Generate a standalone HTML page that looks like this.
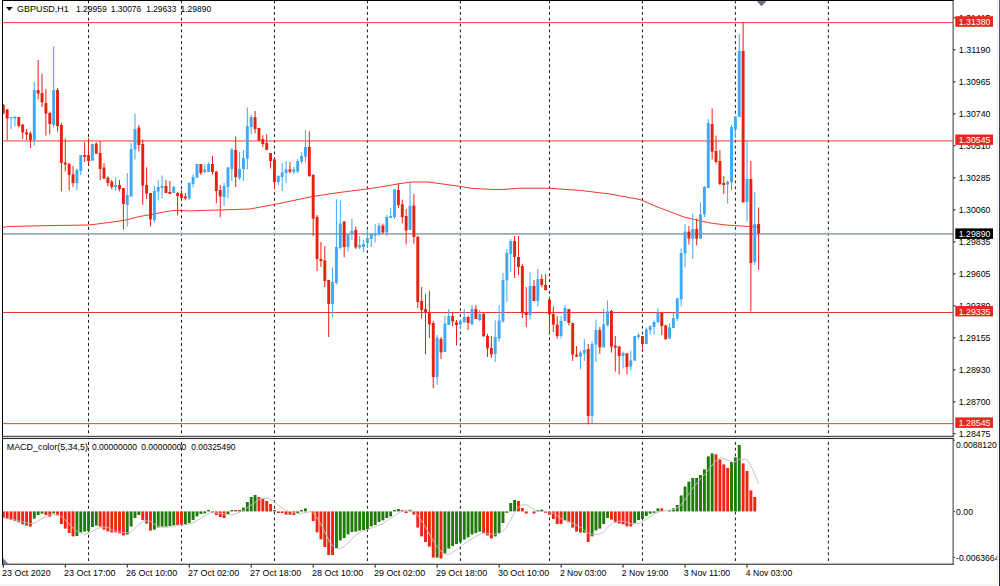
<!DOCTYPE html>
<html><head><meta charset="utf-8"><title>GBPUSD,H1</title>
<style>
html,body{margin:0;padding:0;background:#fff;}
body{width:1000px;height:586px;overflow:hidden;}
svg{display:block;}
text{font-family:"Liberation Sans", Arial, sans-serif;font-size:9.8px;fill:#000;}
.w{fill:#fff;}
</style></head><body>
<svg width="1000" height="586" viewBox="0 0 1000 586">
<defs>
<linearGradient id="re" x1="0" y1="0" x2="0" y2="1">
<stop offset="0" stop-color="#5c6485"/><stop offset="0.11" stop-color="#4a475a"/><stop offset="0.5" stop-color="#2b3040"/><stop offset="1" stop-color="#1a2030"/>
</linearGradient>
<clipPath id="cm"><rect x="3" y="1" width="950" height="435"/></clipPath>
<clipPath id="cs"><rect x="3" y="439" width="950" height="125"/></clipPath>
</defs>
<rect x="0" y="0" width="1000" height="586" fill="#fff"/>

<rect x="997" y="0" width="1" height="585" fill="#ebebe9"/>
<rect x="0" y="584.5" width="998" height="1" fill="#ebebe9"/>
<rect x="999" y="0" width="1" height="586" fill="url(#re)"/>
<g stroke="#1a1a1a" stroke-width="1" stroke-dasharray="2.905 2.905" fill="none">
<path d="M88.52 0.35V563.8"/>
<path d="M181.48 0.35V563.8"/>
<path d="M274.44 0.35V563.8"/>
<path d="M367.41 0.35V563.8"/>
<path d="M460.37 0.35V563.8"/>
<path d="M549.46 0.35V563.8"/>
<path d="M642.43 0.35V563.8"/>
<path d="M735.39 0.35V563.8"/>
<path d="M828.36 0.35V563.8"/>
</g>
<g stroke="#f0392b" stroke-width="1" fill="none">
<path d="M3 22.65H953"/>
<path d="M3 140.95H953"/>
<path d="M3 312.5H953"/>
<path d="M3 423.65H953"/>
</g>
<path d="M3 233.95H953" stroke="#9ea7b4" stroke-width="1.8" fill="none"/>
<polyline points="3.0,227.4 8.0,226.5 48.0,225.6 88.0,225.0 94.0,224.4 110.0,222.4 124.0,220.4 140.0,216.4 152.0,214.4 164.0,212.0 174.0,210.4 181.0,210.4 189.0,211.0 200.0,210.5 220.0,210.0 250.0,209.0 274.0,204.6 312.0,196.6 340.0,192.4 367.0,189.0 380.0,187.0 400.0,183.6 412.0,182.0 428.0,182.0 460.0,186.4 472.0,188.4 492.0,189.4 504.0,189.4 520.0,188.2 548.0,188.2 580.0,190.4 610.0,194.0 640.0,199.5 660.0,208.0 684.0,217.0 710.0,223.0 726.0,225.0 750.0,226.6 758.0,227.0" fill="none" stroke="#f0392b" stroke-width="1" stroke-linejoin="round" clip-path="url(#cm)"/>
<g clip-path="url(#cm)">
<path d="M3.30 104.0V114.0" stroke="#e8200f" stroke-width="1"/>
<rect x="1.85" y="105.0" width="2.9" height="8.6" fill="#e8200f"/>
<path d="M7.17 109.0V140.0" stroke="#e8200f" stroke-width="1"/>
<rect x="5.72" y="109.4" width="2.9" height="9.0" fill="#e8200f"/>
<path d="M11.05 117.0V129.4" stroke="#3fa9f5" stroke-width="1"/>
<rect x="9.60" y="117.0" width="2.9" height="1.4" fill="#3fa9f5"/>
<path d="M14.92 116.6V126.4" stroke="#3fa9f5" stroke-width="1"/>
<rect x="13.47" y="116.6" width="2.9" height="1.8" fill="#3fa9f5"/>
<path d="M18.79 117.0V127.4" stroke="#e8200f" stroke-width="1"/>
<rect x="17.34" y="117.0" width="2.9" height="9.0" fill="#e8200f"/>
<path d="M22.67 124.0V139.0" stroke="#e8200f" stroke-width="1"/>
<rect x="21.22" y="124.6" width="2.9" height="7.8" fill="#e8200f"/>
<path d="M26.54 129.0V140.0" stroke="#e8200f" stroke-width="1"/>
<rect x="25.09" y="132.4" width="2.9" height="2.0" fill="#e8200f"/>
<path d="M30.41 131.6V148.0" stroke="#e8200f" stroke-width="1"/>
<rect x="28.96" y="133.4" width="2.9" height="6.6" fill="#e8200f"/>
<path d="M34.29 82.0V145.6" stroke="#3fa9f5" stroke-width="1"/>
<rect x="32.84" y="90.0" width="2.9" height="50.0" fill="#3fa9f5"/>
<path d="M38.16 60.0V99.4" stroke="#e8200f" stroke-width="1"/>
<rect x="36.71" y="90.0" width="2.9" height="3.6" fill="#e8200f"/>
<path d="M42.03 73.6V107.0" stroke="#e8200f" stroke-width="1"/>
<rect x="40.58" y="93.0" width="2.9" height="9.4" fill="#e8200f"/>
<path d="M45.91 89.0V135.6" stroke="#e8200f" stroke-width="1"/>
<rect x="44.46" y="103.0" width="2.9" height="10.6" fill="#e8200f"/>
<path d="M49.78 111.6V134.4" stroke="#e8200f" stroke-width="1"/>
<rect x="48.33" y="113.0" width="2.9" height="11.0" fill="#e8200f"/>
<path d="M53.66 46.4V127.4" stroke="#3fa9f5" stroke-width="1"/>
<rect x="52.21" y="90.0" width="2.9" height="35.0" fill="#3fa9f5"/>
<path d="M57.53 88.0V131.6" stroke="#e8200f" stroke-width="1"/>
<rect x="56.08" y="90.0" width="2.9" height="36.0" fill="#e8200f"/>
<path d="M61.40 123.0V191.4" stroke="#e8200f" stroke-width="1"/>
<rect x="59.95" y="125.0" width="2.9" height="38.0" fill="#e8200f"/>
<path d="M65.28 138.5V171.5" stroke="#e8200f" stroke-width="1"/>
<rect x="63.83" y="162.5" width="2.9" height="2.0" fill="#e8200f"/>
<path d="M69.15 163.0V190.4" stroke="#e8200f" stroke-width="1"/>
<rect x="67.70" y="164.0" width="2.9" height="11.0" fill="#e8200f"/>
<path d="M73.02 166.0V187.0" stroke="#e8200f" stroke-width="1"/>
<rect x="71.57" y="174.4" width="2.9" height="8.6" fill="#e8200f"/>
<path d="M76.90 168.4V190.4" stroke="#3fa9f5" stroke-width="1"/>
<rect x="75.45" y="170.0" width="2.9" height="13.0" fill="#3fa9f5"/>
<path d="M80.77 155.0V175.0" stroke="#3fa9f5" stroke-width="1"/>
<rect x="79.32" y="155.0" width="2.9" height="16.0" fill="#3fa9f5"/>
<path d="M84.64 142.4V162.0" stroke="#e8200f" stroke-width="1"/>
<rect x="83.19" y="155.0" width="2.9" height="2.0" fill="#e8200f"/>
<path d="M88.52 138.0V164.0" stroke="#e8200f" stroke-width="1"/>
<rect x="87.07" y="155.0" width="2.9" height="6.0" fill="#e8200f"/>
<path d="M92.39 143.6V160.6" stroke="#3fa9f5" stroke-width="1"/>
<rect x="90.94" y="144.0" width="2.9" height="16.6" fill="#3fa9f5"/>
<path d="M96.26 142.4V153.6" stroke="#e8200f" stroke-width="1"/>
<rect x="94.81" y="143.6" width="2.9" height="10.0" fill="#e8200f"/>
<path d="M100.14 141.0V180.0" stroke="#e8200f" stroke-width="1"/>
<rect x="98.69" y="153.0" width="2.9" height="16.0" fill="#e8200f"/>
<path d="M104.01 163.0V178.6" stroke="#e8200f" stroke-width="1"/>
<rect x="102.56" y="167.6" width="2.9" height="11.0" fill="#e8200f"/>
<path d="M107.88 176.4V186.4" stroke="#e8200f" stroke-width="1"/>
<rect x="106.43" y="177.6" width="2.9" height="5.4" fill="#e8200f"/>
<path d="M111.76 180.0V189.4" stroke="#e8200f" stroke-width="1"/>
<rect x="110.31" y="181.6" width="2.9" height="5.4" fill="#e8200f"/>
<path d="M115.63 177.4V190.4" stroke="#3fa9f5" stroke-width="1"/>
<rect x="114.18" y="185.0" width="2.9" height="2.0" fill="#3fa9f5"/>
<path d="M119.50 180.0V191.4" stroke="#e8200f" stroke-width="1"/>
<rect x="118.05" y="185.0" width="2.9" height="4.0" fill="#e8200f"/>
<path d="M123.38 188.0V229.4" stroke="#e8200f" stroke-width="1"/>
<rect x="121.93" y="188.0" width="2.9" height="16.0" fill="#e8200f"/>
<path d="M127.25 173.0V226.4" stroke="#3fa9f5" stroke-width="1"/>
<rect x="125.80" y="195.0" width="2.9" height="10.0" fill="#3fa9f5"/>
<path d="M131.13 143.0V196.6" stroke="#3fa9f5" stroke-width="1"/>
<rect x="129.68" y="149.0" width="2.9" height="47.6" fill="#3fa9f5"/>
<path d="M135.00 113.4V159.4" stroke="#3fa9f5" stroke-width="1"/>
<rect x="133.55" y="129.0" width="2.9" height="20.6" fill="#3fa9f5"/>
<path d="M138.87 125.0V151.4" stroke="#e8200f" stroke-width="1"/>
<rect x="137.42" y="127.6" width="2.9" height="17.4" fill="#e8200f"/>
<path d="M142.75 139.4V205.0" stroke="#e8200f" stroke-width="1"/>
<rect x="141.30" y="144.0" width="2.9" height="41.6" fill="#e8200f"/>
<path d="M146.62 167.4V199.0" stroke="#e8200f" stroke-width="1"/>
<rect x="145.17" y="185.0" width="2.9" height="8.6" fill="#e8200f"/>
<path d="M150.49 193.0V226.4" stroke="#e8200f" stroke-width="1"/>
<rect x="149.04" y="193.0" width="2.9" height="26.4" fill="#e8200f"/>
<path d="M154.37 186.0V222.4" stroke="#3fa9f5" stroke-width="1"/>
<rect x="152.92" y="191.0" width="2.9" height="29.0" fill="#3fa9f5"/>
<path d="M158.24 180.0V200.4" stroke="#3fa9f5" stroke-width="1"/>
<rect x="156.79" y="187.0" width="2.9" height="4.6" fill="#3fa9f5"/>
<path d="M162.11 175.4V198.4" stroke="#3fa9f5" stroke-width="1"/>
<rect x="160.66" y="186.0" width="2.9" height="2.0" fill="#3fa9f5"/>
<path d="M165.99 180.0V193.0" stroke="#e8200f" stroke-width="1"/>
<rect x="164.54" y="186.0" width="2.9" height="7.0" fill="#e8200f"/>
<path d="M169.86 181.0V194.0" stroke="#e8200f" stroke-width="1"/>
<rect x="168.41" y="192.0" width="2.9" height="2.0" fill="#e8200f"/>
<path d="M173.73 186.0V193.0" stroke="#3fa9f5" stroke-width="1"/>
<rect x="172.28" y="187.0" width="2.9" height="6.0" fill="#3fa9f5"/>
<path d="M177.61 192.0V215.4" stroke="#e8200f" stroke-width="1"/>
<rect x="176.16" y="193.0" width="2.9" height="3.0" fill="#e8200f"/>
<path d="M181.48 190.0V199.0" stroke="#e8200f" stroke-width="1"/>
<rect x="180.03" y="193.6" width="2.9" height="4.4" fill="#e8200f"/>
<path d="M185.35 193.0V200.4" stroke="#e8200f" stroke-width="1"/>
<rect x="183.90" y="196.4" width="2.9" height="2.0" fill="#e8200f"/>
<path d="M189.23 182.0V200.0" stroke="#3fa9f5" stroke-width="1"/>
<rect x="187.78" y="183.0" width="2.9" height="15.4" fill="#3fa9f5"/>
<path d="M193.10 174.4V187.4" stroke="#3fa9f5" stroke-width="1"/>
<rect x="191.65" y="177.0" width="2.9" height="7.0" fill="#3fa9f5"/>
<path d="M196.98 164.0V177.6" stroke="#3fa9f5" stroke-width="1"/>
<rect x="195.53" y="164.0" width="2.9" height="13.6" fill="#3fa9f5"/>
<path d="M200.85 164.0V175.0" stroke="#e8200f" stroke-width="1"/>
<rect x="199.40" y="164.0" width="2.9" height="9.0" fill="#e8200f"/>
<path d="M204.72 164.0V173.0" stroke="#3fa9f5" stroke-width="1"/>
<rect x="203.27" y="169.6" width="2.9" height="2.4" fill="#3fa9f5"/>
<path d="M208.60 162.0V172.0" stroke="#3fa9f5" stroke-width="1"/>
<rect x="207.15" y="164.0" width="2.9" height="8.0" fill="#3fa9f5"/>
<path d="M212.47 156.0V174.4" stroke="#e8200f" stroke-width="1"/>
<rect x="211.02" y="164.0" width="2.9" height="8.0" fill="#e8200f"/>
<path d="M216.34 171.0V203.4" stroke="#e8200f" stroke-width="1"/>
<rect x="214.89" y="171.6" width="2.9" height="19.4" fill="#e8200f"/>
<path d="M220.22 185.0V217.4" stroke="#e8200f" stroke-width="1"/>
<rect x="218.77" y="190.0" width="2.9" height="6.4" fill="#e8200f"/>
<path d="M224.09 183.0V206.0" stroke="#3fa9f5" stroke-width="1"/>
<rect x="222.64" y="186.0" width="2.9" height="11.0" fill="#3fa9f5"/>
<path d="M227.96 167.0V198.4" stroke="#3fa9f5" stroke-width="1"/>
<rect x="226.51" y="167.4" width="2.9" height="19.6" fill="#3fa9f5"/>
<path d="M231.84 148.0V181.0" stroke="#3fa9f5" stroke-width="1"/>
<rect x="230.39" y="149.6" width="2.9" height="19.4" fill="#3fa9f5"/>
<path d="M235.71 136.4V187.0" stroke="#e8200f" stroke-width="1"/>
<rect x="234.26" y="150.0" width="2.9" height="27.0" fill="#e8200f"/>
<path d="M239.58 151.6V180.0" stroke="#3fa9f5" stroke-width="1"/>
<rect x="238.13" y="169.0" width="2.9" height="9.0" fill="#3fa9f5"/>
<path d="M243.46 150.0V181.0" stroke="#3fa9f5" stroke-width="1"/>
<rect x="242.01" y="158.0" width="2.9" height="11.0" fill="#3fa9f5"/>
<path d="M247.33 107.4V169.4" stroke="#3fa9f5" stroke-width="1"/>
<rect x="245.88" y="126.0" width="2.9" height="32.6" fill="#3fa9f5"/>
<path d="M251.20 115.0V134.4" stroke="#3fa9f5" stroke-width="1"/>
<rect x="249.75" y="117.0" width="2.9" height="10.0" fill="#3fa9f5"/>
<path d="M255.08 111.0V133.4" stroke="#e8200f" stroke-width="1"/>
<rect x="253.63" y="117.0" width="2.9" height="12.0" fill="#e8200f"/>
<path d="M258.95 128.0V140.6" stroke="#e8200f" stroke-width="1"/>
<rect x="257.50" y="128.0" width="2.9" height="12.6" fill="#e8200f"/>
<path d="M262.82 135.4V147.0" stroke="#e8200f" stroke-width="1"/>
<rect x="261.37" y="139.0" width="2.9" height="5.0" fill="#e8200f"/>
<path d="M266.70 134.4V150.0" stroke="#e8200f" stroke-width="1"/>
<rect x="265.25" y="143.0" width="2.9" height="7.0" fill="#e8200f"/>
<path d="M270.57 153.0V168.4" stroke="#e8200f" stroke-width="1"/>
<rect x="269.12" y="153.0" width="2.9" height="8.0" fill="#e8200f"/>
<path d="M274.44 157.0V189.0" stroke="#e8200f" stroke-width="1"/>
<rect x="273.00" y="159.4" width="2.9" height="22.6" fill="#e8200f"/>
<path d="M278.32 175.0V185.0" stroke="#3fa9f5" stroke-width="1"/>
<rect x="276.87" y="176.0" width="2.9" height="6.0" fill="#3fa9f5"/>
<path d="M282.19 163.0V191.0" stroke="#3fa9f5" stroke-width="1"/>
<rect x="280.74" y="172.4" width="2.9" height="4.6" fill="#3fa9f5"/>
<path d="M286.07 161.0V183.0" stroke="#3fa9f5" stroke-width="1"/>
<rect x="284.62" y="169.4" width="2.9" height="3.6" fill="#3fa9f5"/>
<path d="M289.94 162.0V173.4" stroke="#e8200f" stroke-width="1"/>
<rect x="288.49" y="169.4" width="2.9" height="2.2" fill="#e8200f"/>
<path d="M293.81 167.0V174.0" stroke="#3fa9f5" stroke-width="1"/>
<rect x="292.36" y="169.4" width="2.9" height="2.6" fill="#3fa9f5"/>
<path d="M297.69 159.0V173.0" stroke="#3fa9f5" stroke-width="1"/>
<rect x="296.24" y="161.0" width="2.9" height="10.6" fill="#3fa9f5"/>
<path d="M301.56 152.4V163.4" stroke="#3fa9f5" stroke-width="1"/>
<rect x="300.11" y="156.0" width="2.9" height="5.6" fill="#3fa9f5"/>
<path d="M305.43 130.0V162.4" stroke="#3fa9f5" stroke-width="1"/>
<rect x="303.98" y="147.0" width="2.9" height="9.6" fill="#3fa9f5"/>
<path d="M309.31 131.4V177.0" stroke="#e8200f" stroke-width="1"/>
<rect x="307.86" y="147.0" width="2.9" height="29.0" fill="#e8200f"/>
<path d="M313.18 174.0V236.2" stroke="#e8200f" stroke-width="1"/>
<rect x="311.73" y="175.0" width="2.9" height="43.6" fill="#e8200f"/>
<path d="M317.05 215.0V271.0" stroke="#e8200f" stroke-width="1"/>
<rect x="315.60" y="217.0" width="2.9" height="42.0" fill="#e8200f"/>
<path d="M320.93 242.0V267.0" stroke="#e8200f" stroke-width="1"/>
<rect x="319.48" y="259.0" width="2.9" height="2.0" fill="#e8200f"/>
<path d="M324.80 246.0V287.4" stroke="#e8200f" stroke-width="1"/>
<rect x="323.35" y="260.4" width="2.9" height="20.6" fill="#e8200f"/>
<path d="M328.67 280.0V337.0" stroke="#e8200f" stroke-width="1"/>
<rect x="327.22" y="280.0" width="2.9" height="24.0" fill="#e8200f"/>
<path d="M332.55 267.4V317.4" stroke="#3fa9f5" stroke-width="1"/>
<rect x="331.10" y="282.0" width="2.9" height="22.0" fill="#3fa9f5"/>
<path d="M336.42 199.4V284.4" stroke="#3fa9f5" stroke-width="1"/>
<rect x="334.97" y="247.0" width="2.9" height="36.0" fill="#3fa9f5"/>
<path d="M340.29 200.4V249.4" stroke="#3fa9f5" stroke-width="1"/>
<rect x="338.84" y="223.6" width="2.9" height="24.4" fill="#3fa9f5"/>
<path d="M344.17 221.0V257.4" stroke="#e8200f" stroke-width="1"/>
<rect x="342.72" y="221.6" width="2.9" height="25.4" fill="#e8200f"/>
<path d="M348.04 234.0V251.4" stroke="#3fa9f5" stroke-width="1"/>
<rect x="346.59" y="234.0" width="2.9" height="13.0" fill="#3fa9f5"/>
<path d="M351.92 219.0V240.0" stroke="#3fa9f5" stroke-width="1"/>
<rect x="350.47" y="231.0" width="2.9" height="3.0" fill="#3fa9f5"/>
<path d="M355.79 226.6V249.0" stroke="#e8200f" stroke-width="1"/>
<rect x="354.34" y="230.0" width="2.9" height="17.4" fill="#e8200f"/>
<path d="M359.66 236.0V249.0" stroke="#3fa9f5" stroke-width="1"/>
<rect x="358.21" y="245.0" width="2.9" height="2.4" fill="#3fa9f5"/>
<path d="M363.54 240.0V252.4" stroke="#3fa9f5" stroke-width="1"/>
<rect x="362.09" y="244.0" width="2.9" height="3.0" fill="#3fa9f5"/>
<path d="M367.41 229.0V248.0" stroke="#3fa9f5" stroke-width="1"/>
<rect x="365.96" y="238.0" width="2.9" height="5.0" fill="#3fa9f5"/>
<path d="M371.28 234.0V247.0" stroke="#3fa9f5" stroke-width="1"/>
<rect x="369.83" y="234.0" width="2.9" height="5.0" fill="#3fa9f5"/>
<path d="M375.16 224.0V242.4" stroke="#3fa9f5" stroke-width="1"/>
<rect x="373.71" y="233.6" width="2.9" height="2.0" fill="#3fa9f5"/>
<path d="M379.03 223.0V236.0" stroke="#3fa9f5" stroke-width="1"/>
<rect x="377.58" y="225.6" width="2.9" height="8.4" fill="#3fa9f5"/>
<path d="M382.90 223.6V234.0" stroke="#e8200f" stroke-width="1"/>
<rect x="381.45" y="225.6" width="2.9" height="6.8" fill="#e8200f"/>
<path d="M386.78 215.0V236.0" stroke="#3fa9f5" stroke-width="1"/>
<rect x="385.33" y="217.0" width="2.9" height="15.5" fill="#3fa9f5"/>
<path d="M390.65 208.0V218.0" stroke="#3fa9f5" stroke-width="1"/>
<rect x="389.20" y="216.0" width="2.9" height="2.0" fill="#3fa9f5"/>
<path d="M394.52 189.0V219.0" stroke="#3fa9f5" stroke-width="1"/>
<rect x="393.07" y="189.4" width="2.9" height="27.6" fill="#3fa9f5"/>
<path d="M398.40 183.4V208.0" stroke="#e8200f" stroke-width="1"/>
<rect x="396.95" y="190.0" width="2.9" height="15.0" fill="#e8200f"/>
<path d="M402.27 199.6V223.6" stroke="#e8200f" stroke-width="1"/>
<rect x="400.82" y="204.4" width="2.9" height="12.6" fill="#e8200f"/>
<path d="M406.14 209.0V244.4" stroke="#e8200f" stroke-width="1"/>
<rect x="404.69" y="216.0" width="2.9" height="14.4" fill="#e8200f"/>
<path d="M410.02 183.0V230.0" stroke="#3fa9f5" stroke-width="1"/>
<rect x="408.57" y="205.6" width="2.9" height="24.4" fill="#3fa9f5"/>
<path d="M413.89 194.0V243.6" stroke="#e8200f" stroke-width="1"/>
<rect x="412.44" y="205.6" width="2.9" height="31.4" fill="#e8200f"/>
<path d="M417.76 235.6V308.0" stroke="#e8200f" stroke-width="1"/>
<rect x="416.31" y="237.0" width="2.9" height="65.0" fill="#e8200f"/>
<path d="M421.64 287.0V318.4" stroke="#e8200f" stroke-width="1"/>
<rect x="420.19" y="301.0" width="2.9" height="9.0" fill="#e8200f"/>
<path d="M425.51 294.4V354.4" stroke="#e8200f" stroke-width="1"/>
<rect x="424.06" y="309.0" width="2.9" height="3.0" fill="#e8200f"/>
<path d="M429.38 290.6V338.0" stroke="#e8200f" stroke-width="1"/>
<rect x="427.94" y="312.4" width="2.9" height="12.0" fill="#e8200f"/>
<path d="M433.26 321.0V388.0" stroke="#e8200f" stroke-width="1"/>
<rect x="431.81" y="323.0" width="2.9" height="54.0" fill="#e8200f"/>
<path d="M437.13 335.0V385.0" stroke="#3fa9f5" stroke-width="1"/>
<rect x="435.68" y="337.6" width="2.9" height="39.4" fill="#3fa9f5"/>
<path d="M441.01 337.0V359.0" stroke="#e8200f" stroke-width="1"/>
<rect x="439.56" y="339.0" width="2.9" height="13.4" fill="#e8200f"/>
<path d="M444.88 316.0V352.0" stroke="#3fa9f5" stroke-width="1"/>
<rect x="443.43" y="323.6" width="2.9" height="28.4" fill="#3fa9f5"/>
<path d="M448.75 309.0V325.0" stroke="#3fa9f5" stroke-width="1"/>
<rect x="447.30" y="316.0" width="2.9" height="9.0" fill="#3fa9f5"/>
<path d="M452.63 313.0V326.0" stroke="#e8200f" stroke-width="1"/>
<rect x="451.18" y="316.0" width="2.9" height="5.4" fill="#e8200f"/>
<path d="M456.50 320.0V345.4" stroke="#e8200f" stroke-width="1"/>
<rect x="455.05" y="322.4" width="2.9" height="2.6" fill="#e8200f"/>
<path d="M460.37 319.4V329.0" stroke="#3fa9f5" stroke-width="1"/>
<rect x="458.92" y="321.0" width="2.9" height="3.4" fill="#3fa9f5"/>
<path d="M464.25 309.0V322.4" stroke="#3fa9f5" stroke-width="1"/>
<rect x="462.80" y="317.0" width="2.9" height="5.4" fill="#3fa9f5"/>
<path d="M468.12 315.6V330.0" stroke="#e8200f" stroke-width="1"/>
<rect x="466.67" y="317.0" width="2.9" height="6.0" fill="#e8200f"/>
<path d="M471.99 305.0V325.4" stroke="#3fa9f5" stroke-width="1"/>
<rect x="470.54" y="309.0" width="2.9" height="15.0" fill="#3fa9f5"/>
<path d="M475.87 305.0V319.0" stroke="#e8200f" stroke-width="1"/>
<rect x="474.42" y="309.0" width="2.9" height="10.0" fill="#e8200f"/>
<path d="M479.74 310.0V321.4" stroke="#3fa9f5" stroke-width="1"/>
<rect x="478.29" y="314.0" width="2.9" height="6.0" fill="#3fa9f5"/>
<path d="M483.61 312.4V336.4" stroke="#e8200f" stroke-width="1"/>
<rect x="482.16" y="314.0" width="2.9" height="22.4" fill="#e8200f"/>
<path d="M487.49 334.0V357.0" stroke="#e8200f" stroke-width="1"/>
<rect x="486.04" y="336.0" width="2.9" height="12.4" fill="#e8200f"/>
<path d="M491.36 336.0V358.0" stroke="#e8200f" stroke-width="1"/>
<rect x="489.91" y="348.0" width="2.9" height="6.4" fill="#e8200f"/>
<path d="M495.23 320.4V362.0" stroke="#3fa9f5" stroke-width="1"/>
<rect x="493.78" y="337.0" width="2.9" height="17.0" fill="#3fa9f5"/>
<path d="M499.11 305.0V341.6" stroke="#3fa9f5" stroke-width="1"/>
<rect x="497.66" y="320.4" width="2.9" height="18.2" fill="#3fa9f5"/>
<path d="M502.98 273.0V323.0" stroke="#3fa9f5" stroke-width="1"/>
<rect x="501.53" y="280.0" width="2.9" height="41.4" fill="#3fa9f5"/>
<path d="M506.86 249.0V302.0" stroke="#3fa9f5" stroke-width="1"/>
<rect x="505.41" y="253.0" width="2.9" height="27.4" fill="#3fa9f5"/>
<path d="M510.73 239.0V272.0" stroke="#3fa9f5" stroke-width="1"/>
<rect x="509.28" y="241.0" width="2.9" height="13.0" fill="#3fa9f5"/>
<path d="M514.60 236.0V278.0" stroke="#e8200f" stroke-width="1"/>
<rect x="513.15" y="241.0" width="2.9" height="16.0" fill="#e8200f"/>
<path d="M518.48 236.0V275.0" stroke="#e8200f" stroke-width="1"/>
<rect x="517.03" y="257.0" width="2.9" height="10.0" fill="#e8200f"/>
<path d="M522.35 264.0V318.0" stroke="#e8200f" stroke-width="1"/>
<rect x="520.90" y="266.0" width="2.9" height="47.0" fill="#e8200f"/>
<path d="M526.22 287.0V327.0" stroke="#e8200f" stroke-width="1"/>
<rect x="524.77" y="312.0" width="2.9" height="3.0" fill="#e8200f"/>
<path d="M530.10 272.4V319.4" stroke="#3fa9f5" stroke-width="1"/>
<rect x="528.65" y="286.0" width="2.9" height="29.0" fill="#3fa9f5"/>
<path d="M533.97 280.0V301.0" stroke="#e8200f" stroke-width="1"/>
<rect x="532.52" y="286.0" width="2.9" height="15.0" fill="#e8200f"/>
<path d="M537.84 269.0V306.6" stroke="#3fa9f5" stroke-width="1"/>
<rect x="536.39" y="279.0" width="2.9" height="22.0" fill="#3fa9f5"/>
<path d="M541.72 274.4V287.4" stroke="#e8200f" stroke-width="1"/>
<rect x="540.27" y="279.0" width="2.9" height="6.0" fill="#e8200f"/>
<path d="M545.59 274.4V290.6" stroke="#e8200f" stroke-width="1"/>
<rect x="544.14" y="285.0" width="2.9" height="5.0" fill="#e8200f"/>
<path d="M549.46 297.0V334.6" stroke="#e8200f" stroke-width="1"/>
<rect x="548.01" y="299.4" width="2.9" height="15.0" fill="#e8200f"/>
<path d="M553.34 306.4V332.0" stroke="#e8200f" stroke-width="1"/>
<rect x="551.89" y="314.0" width="2.9" height="10.6" fill="#e8200f"/>
<path d="M557.21 316.0V338.6" stroke="#e8200f" stroke-width="1"/>
<rect x="555.76" y="324.6" width="2.9" height="11.4" fill="#e8200f"/>
<path d="M561.08 316.0V338.6" stroke="#3fa9f5" stroke-width="1"/>
<rect x="559.63" y="321.0" width="2.9" height="15.0" fill="#3fa9f5"/>
<path d="M564.96 305.0V321.0" stroke="#3fa9f5" stroke-width="1"/>
<rect x="563.51" y="308.0" width="2.9" height="13.0" fill="#3fa9f5"/>
<path d="M568.83 309.0V325.4" stroke="#e8200f" stroke-width="1"/>
<rect x="567.38" y="309.0" width="2.9" height="14.0" fill="#e8200f"/>
<path d="M572.70 323.0V361.0" stroke="#e8200f" stroke-width="1"/>
<rect x="571.25" y="323.0" width="2.9" height="31.6" fill="#e8200f"/>
<path d="M576.58 346.0V357.0" stroke="#e8200f" stroke-width="1"/>
<rect x="575.13" y="354.6" width="2.9" height="2.0" fill="#e8200f"/>
<path d="M580.45 351.0V369.4" stroke="#3fa9f5" stroke-width="1"/>
<rect x="579.00" y="352.6" width="2.9" height="4.0" fill="#3fa9f5"/>
<path d="M584.32 339.0V361.0" stroke="#3fa9f5" stroke-width="1"/>
<rect x="582.87" y="350.0" width="2.9" height="3.4" fill="#3fa9f5"/>
<path d="M588.20 344.0V424.4" stroke="#e8200f" stroke-width="1"/>
<rect x="586.75" y="349.0" width="2.9" height="67.0" fill="#e8200f"/>
<path d="M592.07 341.4V423.0" stroke="#3fa9f5" stroke-width="1"/>
<rect x="590.62" y="344.0" width="2.9" height="72.0" fill="#3fa9f5"/>
<path d="M595.95 319.6V362.0" stroke="#3fa9f5" stroke-width="1"/>
<rect x="594.50" y="330.0" width="2.9" height="14.6" fill="#3fa9f5"/>
<path d="M599.82 327.0V354.0" stroke="#e8200f" stroke-width="1"/>
<rect x="598.37" y="330.0" width="2.9" height="17.4" fill="#e8200f"/>
<path d="M603.69 309.0V347.4" stroke="#3fa9f5" stroke-width="1"/>
<rect x="602.24" y="324.4" width="2.9" height="23.0" fill="#3fa9f5"/>
<path d="M607.57 300.4V326.4" stroke="#3fa9f5" stroke-width="1"/>
<rect x="606.12" y="311.4" width="2.9" height="14.0" fill="#3fa9f5"/>
<path d="M611.44 310.0V352.6" stroke="#e8200f" stroke-width="1"/>
<rect x="609.99" y="311.0" width="2.9" height="35.6" fill="#e8200f"/>
<path d="M615.31 336.0V371.6" stroke="#e8200f" stroke-width="1"/>
<rect x="613.86" y="345.6" width="2.9" height="2.0" fill="#e8200f"/>
<path d="M619.19 346.0V374.4" stroke="#e8200f" stroke-width="1"/>
<rect x="617.74" y="346.6" width="2.9" height="9.4" fill="#e8200f"/>
<path d="M623.06 351.6V368.4" stroke="#3fa9f5" stroke-width="1"/>
<rect x="621.61" y="353.0" width="2.9" height="3.0" fill="#3fa9f5"/>
<path d="M626.93 353.0V374.4" stroke="#e8200f" stroke-width="1"/>
<rect x="625.48" y="353.4" width="2.9" height="13.6" fill="#e8200f"/>
<path d="M630.81 350.6V370.4" stroke="#3fa9f5" stroke-width="1"/>
<rect x="629.36" y="360.4" width="2.9" height="6.2" fill="#3fa9f5"/>
<path d="M634.68 336.0V360.6" stroke="#3fa9f5" stroke-width="1"/>
<rect x="633.23" y="336.0" width="2.9" height="24.6" fill="#3fa9f5"/>
<path d="M638.55 333.0V339.4" stroke="#3fa9f5" stroke-width="1"/>
<rect x="637.10" y="335.0" width="2.9" height="2.0" fill="#3fa9f5"/>
<path d="M642.43 336.0V348.6" stroke="#e8200f" stroke-width="1"/>
<rect x="640.98" y="336.0" width="2.9" height="8.0" fill="#e8200f"/>
<path d="M646.30 327.4V344.0" stroke="#3fa9f5" stroke-width="1"/>
<rect x="644.85" y="329.4" width="2.9" height="14.6" fill="#3fa9f5"/>
<path d="M650.17 325.4V334.6" stroke="#3fa9f5" stroke-width="1"/>
<rect x="648.72" y="326.4" width="2.9" height="3.6" fill="#3fa9f5"/>
<path d="M654.05 320.4V334.6" stroke="#3fa9f5" stroke-width="1"/>
<rect x="652.60" y="322.0" width="2.9" height="5.0" fill="#3fa9f5"/>
<path d="M657.92 308.0V322.4" stroke="#3fa9f5" stroke-width="1"/>
<rect x="656.47" y="313.0" width="2.9" height="9.4" fill="#3fa9f5"/>
<path d="M661.79 313.0V335.0" stroke="#e8200f" stroke-width="1"/>
<rect x="660.34" y="313.0" width="2.9" height="13.0" fill="#e8200f"/>
<path d="M665.67 325.0V340.0" stroke="#e8200f" stroke-width="1"/>
<rect x="664.22" y="325.4" width="2.9" height="13.6" fill="#e8200f"/>
<path d="M669.54 323.4V338.6" stroke="#3fa9f5" stroke-width="1"/>
<rect x="668.09" y="327.4" width="2.9" height="11.2" fill="#3fa9f5"/>
<path d="M673.42 313.0V328.0" stroke="#3fa9f5" stroke-width="1"/>
<rect x="671.97" y="318.0" width="2.9" height="10.0" fill="#3fa9f5"/>
<path d="M677.29 298.0V321.0" stroke="#3fa9f5" stroke-width="1"/>
<rect x="675.84" y="298.4" width="2.9" height="20.2" fill="#3fa9f5"/>
<path d="M681.16 248.6V306.6" stroke="#3fa9f5" stroke-width="1"/>
<rect x="679.71" y="253.0" width="2.9" height="46.4" fill="#3fa9f5"/>
<path d="M685.04 224.0V267.4" stroke="#3fa9f5" stroke-width="1"/>
<rect x="683.59" y="231.6" width="2.9" height="21.8" fill="#3fa9f5"/>
<path d="M688.91 226.0V244.6" stroke="#e8200f" stroke-width="1"/>
<rect x="687.46" y="231.6" width="2.9" height="7.0" fill="#e8200f"/>
<path d="M692.78 213.4V259.0" stroke="#3fa9f5" stroke-width="1"/>
<rect x="691.33" y="229.0" width="2.9" height="9.6" fill="#3fa9f5"/>
<path d="M696.66 218.6V245.4" stroke="#e8200f" stroke-width="1"/>
<rect x="695.21" y="229.0" width="2.9" height="9.6" fill="#e8200f"/>
<path d="M700.53 202.4V238.6" stroke="#3fa9f5" stroke-width="1"/>
<rect x="699.08" y="214.4" width="2.9" height="24.2" fill="#3fa9f5"/>
<path d="M704.40 186.0V217.0" stroke="#3fa9f5" stroke-width="1"/>
<rect x="702.95" y="187.0" width="2.9" height="27.4" fill="#3fa9f5"/>
<path d="M708.28 119.0V188.0" stroke="#3fa9f5" stroke-width="1"/>
<rect x="706.83" y="123.0" width="2.9" height="65.0" fill="#3fa9f5"/>
<path d="M712.15 108.4V159.4" stroke="#e8200f" stroke-width="1"/>
<rect x="710.70" y="124.0" width="2.9" height="27.6" fill="#e8200f"/>
<path d="M716.02 135.6V163.6" stroke="#e8200f" stroke-width="1"/>
<rect x="714.57" y="151.0" width="2.9" height="11.0" fill="#e8200f"/>
<path d="M719.90 150.0V185.0" stroke="#e8200f" stroke-width="1"/>
<rect x="718.45" y="161.0" width="2.9" height="23.0" fill="#e8200f"/>
<path d="M723.77 176.0V194.0" stroke="#e8200f" stroke-width="1"/>
<rect x="722.32" y="183.0" width="2.9" height="2.0" fill="#e8200f"/>
<path d="M727.64 180.6V203.4" stroke="#3fa9f5" stroke-width="1"/>
<rect x="726.19" y="181.6" width="2.9" height="2.8" fill="#3fa9f5"/>
<path d="M731.52 125.0V190.4" stroke="#3fa9f5" stroke-width="1"/>
<rect x="730.07" y="127.0" width="2.9" height="55.4" fill="#3fa9f5"/>
<path d="M735.39 116.0V138.0" stroke="#3fa9f5" stroke-width="1"/>
<rect x="733.94" y="116.4" width="2.9" height="13.2" fill="#3fa9f5"/>
<path d="M739.26 34.0V117.0" stroke="#3fa9f5" stroke-width="1"/>
<rect x="737.81" y="51.0" width="2.9" height="66.0" fill="#3fa9f5"/>
<path d="M743.14 22.5V202.4" stroke="#e8200f" stroke-width="1"/>
<rect x="741.69" y="51.0" width="2.9" height="151.4" fill="#e8200f"/>
<path d="M747.01 141.0V221.4" stroke="#3fa9f5" stroke-width="1"/>
<rect x="745.56" y="179.0" width="2.9" height="23.0" fill="#3fa9f5"/>
<path d="M750.89 161.0V311.5" stroke="#e8200f" stroke-width="1"/>
<rect x="749.44" y="179.0" width="2.9" height="84.0" fill="#e8200f"/>
<path d="M754.76 192.0V265.0" stroke="#3fa9f5" stroke-width="1"/>
<rect x="753.31" y="224.0" width="2.9" height="38.0" fill="#3fa9f5"/>
<path d="M758.63 207.4V270.0" stroke="#e8200f" stroke-width="1"/>
<rect x="757.18" y="224.0" width="2.9" height="9.4" fill="#e8200f"/>
</g>
<g clip-path="url(#cs)">
<rect x="1.85" y="511.4" width="2.9" height="6.6" fill="#f02410"/>
<rect x="5.72" y="511.4" width="2.9" height="7.6" fill="#f02410"/>
<rect x="9.60" y="511.4" width="2.9" height="8.6" fill="#f02410"/>
<rect x="13.47" y="511.4" width="2.9" height="9.6" fill="#f02410"/>
<rect x="17.34" y="511.4" width="2.9" height="11.0" fill="#f02410"/>
<rect x="21.22" y="511.4" width="2.9" height="13.0" fill="#f02410"/>
<rect x="25.09" y="511.4" width="2.9" height="14.2" fill="#f02410"/>
<rect x="28.96" y="511.4" width="2.9" height="15.2" fill="#f02410"/>
<rect x="32.84" y="511.4" width="2.9" height="7.2" fill="#1f7a0a"/>
<rect x="36.71" y="511.4" width="2.9" height="3.6" fill="#1f7a0a"/>
<rect x="40.58" y="511.4" width="2.9" height="2.2" fill="#1f7a0a"/>
<rect x="44.46" y="511.4" width="2.9" height="3.6" fill="#f02410"/>
<rect x="48.33" y="511.4" width="2.9" height="5.2" fill="#f02410"/>
<rect x="52.21" y="511.4" width="2.9" height="2.0" fill="#1f7a0a"/>
<rect x="56.08" y="511.4" width="2.9" height="4.0" fill="#f02410"/>
<rect x="59.95" y="511.4" width="2.9" height="12.6" fill="#f02410"/>
<rect x="63.83" y="511.4" width="2.9" height="17.2" fill="#f02410"/>
<rect x="67.70" y="511.4" width="2.9" height="21.6" fill="#f02410"/>
<rect x="71.57" y="511.4" width="2.9" height="25.0" fill="#f02410"/>
<rect x="75.45" y="511.4" width="2.9" height="24.6" fill="#1f7a0a"/>
<rect x="79.32" y="511.4" width="2.9" height="21.0" fill="#1f7a0a"/>
<rect x="83.19" y="511.4" width="2.9" height="20.2" fill="#1f7a0a"/>
<rect x="87.07" y="511.4" width="2.9" height="19.6" fill="#1f7a0a"/>
<rect x="90.94" y="511.4" width="2.9" height="15.6" fill="#1f7a0a"/>
<rect x="94.81" y="511.4" width="2.9" height="14.2" fill="#1f7a0a"/>
<rect x="98.69" y="511.4" width="2.9" height="15.2" fill="#f02410"/>
<rect x="102.56" y="511.4" width="2.9" height="18.2" fill="#f02410"/>
<rect x="106.43" y="511.4" width="2.9" height="20.0" fill="#f02410"/>
<rect x="110.31" y="511.4" width="2.9" height="21.0" fill="#f02410"/>
<rect x="114.18" y="511.4" width="2.9" height="21.0" fill="#f02410"/>
<rect x="118.05" y="511.4" width="2.9" height="22.0" fill="#f02410"/>
<rect x="121.93" y="511.4" width="2.9" height="24.0" fill="#f02410"/>
<rect x="125.80" y="511.4" width="2.9" height="23.0" fill="#1f7a0a"/>
<rect x="129.68" y="511.4" width="2.9" height="15.2" fill="#1f7a0a"/>
<rect x="133.55" y="511.4" width="2.9" height="6.6" fill="#1f7a0a"/>
<rect x="137.42" y="511.4" width="2.9" height="3.6" fill="#1f7a0a"/>
<rect x="141.30" y="511.4" width="2.9" height="8.6" fill="#f02410"/>
<rect x="145.17" y="511.4" width="2.9" height="12.2" fill="#f02410"/>
<rect x="149.04" y="511.4" width="2.9" height="19.2" fill="#f02410"/>
<rect x="152.92" y="511.4" width="2.9" height="18.2" fill="#1f7a0a"/>
<rect x="156.79" y="511.4" width="2.9" height="16.0" fill="#1f7a0a"/>
<rect x="160.66" y="511.4" width="2.9" height="15.2" fill="#1f7a0a"/>
<rect x="164.54" y="511.4" width="2.9" height="15.2" fill="#1f7a0a"/>
<rect x="168.41" y="511.4" width="2.9" height="14.6" fill="#1f7a0a"/>
<rect x="172.28" y="511.4" width="2.9" height="14.0" fill="#1f7a0a"/>
<rect x="176.16" y="511.4" width="2.9" height="13.6" fill="#f02410"/>
<rect x="180.03" y="511.4" width="2.9" height="13.6" fill="#f02410"/>
<rect x="183.90" y="511.4" width="2.9" height="13.0" fill="#1f7a0a"/>
<rect x="187.78" y="511.4" width="2.9" height="11.6" fill="#1f7a0a"/>
<rect x="191.65" y="511.4" width="2.9" height="8.6" fill="#1f7a0a"/>
<rect x="195.53" y="511.4" width="2.9" height="5.0" fill="#1f7a0a"/>
<rect x="199.40" y="511.4" width="2.9" height="2.6" fill="#1f7a0a"/>
<rect x="203.27" y="511.4" width="2.9" height="2.0" fill="#1f7a0a"/>
<rect x="207.15" y="510.0" width="2.9" height="1.4" fill="#1f7a0a"/>
<rect x="211.02" y="511.4" width="2.9" height="1.4" fill="#f02410"/>
<rect x="214.89" y="511.4" width="2.9" height="3.6" fill="#f02410"/>
<rect x="218.77" y="511.4" width="2.9" height="5.6" fill="#f02410"/>
<rect x="222.64" y="511.4" width="2.9" height="6.6" fill="#f02410"/>
<rect x="226.51" y="511.4" width="2.9" height="2.6" fill="#1f7a0a"/>
<rect x="230.39" y="510.0" width="2.9" height="1.4" fill="#1f7a0a"/>
<rect x="234.26" y="510.0" width="2.9" height="1.4" fill="#f02410"/>
<rect x="238.13" y="510.0" width="2.9" height="1.4" fill="#1f7a0a"/>
<rect x="242.01" y="507.6" width="2.9" height="3.8" fill="#1f7a0a"/>
<rect x="245.88" y="502.0" width="2.9" height="9.4" fill="#1f7a0a"/>
<rect x="249.75" y="497.0" width="2.9" height="14.4" fill="#1f7a0a"/>
<rect x="253.63" y="495.0" width="2.9" height="16.4" fill="#1f7a0a"/>
<rect x="257.50" y="497.0" width="2.9" height="14.4" fill="#f02410"/>
<rect x="261.37" y="499.0" width="2.9" height="12.4" fill="#f02410"/>
<rect x="265.25" y="501.0" width="2.9" height="10.4" fill="#f02410"/>
<rect x="269.12" y="504.0" width="2.9" height="7.4" fill="#f02410"/>
<rect x="273.00" y="510.0" width="2.9" height="1.4" fill="#f02410"/>
<rect x="276.87" y="511.4" width="2.9" height="1.6" fill="#f02410"/>
<rect x="280.74" y="511.4" width="2.9" height="1.6" fill="#f02410"/>
<rect x="284.62" y="511.4" width="2.9" height="3.2" fill="#f02410"/>
<rect x="288.49" y="511.4" width="2.9" height="3.2" fill="#f02410"/>
<rect x="292.36" y="511.4" width="2.9" height="3.6" fill="#f02410"/>
<rect x="296.24" y="511.4" width="2.9" height="1.6" fill="#1f7a0a"/>
<rect x="300.11" y="510.0" width="2.9" height="1.4" fill="#1f7a0a"/>
<rect x="303.98" y="508.4" width="2.9" height="3.0" fill="#1f7a0a"/>
<rect x="311.73" y="511.4" width="2.9" height="9.6" fill="#f02410"/>
<rect x="315.60" y="511.4" width="2.9" height="21.0" fill="#f02410"/>
<rect x="319.48" y="511.4" width="2.9" height="28.0" fill="#f02410"/>
<rect x="323.35" y="511.4" width="2.9" height="35.6" fill="#f02410"/>
<rect x="327.22" y="511.4" width="2.9" height="43.6" fill="#f02410"/>
<rect x="331.10" y="511.4" width="2.9" height="43.6" fill="#f02410"/>
<rect x="334.97" y="511.4" width="2.9" height="36.6" fill="#1f7a0a"/>
<rect x="338.84" y="511.4" width="2.9" height="29.0" fill="#1f7a0a"/>
<rect x="342.72" y="511.4" width="2.9" height="26.6" fill="#1f7a0a"/>
<rect x="346.59" y="511.4" width="2.9" height="23.0" fill="#1f7a0a"/>
<rect x="350.47" y="511.4" width="2.9" height="20.6" fill="#1f7a0a"/>
<rect x="354.34" y="511.4" width="2.9" height="20.2" fill="#1f7a0a"/>
<rect x="358.21" y="511.4" width="2.9" height="19.2" fill="#1f7a0a"/>
<rect x="362.09" y="511.4" width="2.9" height="18.6" fill="#1f7a0a"/>
<rect x="365.96" y="511.4" width="2.9" height="17.6" fill="#1f7a0a"/>
<rect x="369.83" y="511.4" width="2.9" height="15.0" fill="#1f7a0a"/>
<rect x="373.71" y="511.4" width="2.9" height="13.6" fill="#1f7a0a"/>
<rect x="377.58" y="511.4" width="2.9" height="10.6" fill="#1f7a0a"/>
<rect x="381.45" y="511.4" width="2.9" height="9.0" fill="#1f7a0a"/>
<rect x="385.33" y="511.4" width="2.9" height="6.6" fill="#1f7a0a"/>
<rect x="389.20" y="511.4" width="2.9" height="5.0" fill="#1f7a0a"/>
<rect x="393.07" y="510.0" width="2.9" height="1.4" fill="#1f7a0a"/>
<rect x="396.95" y="509.0" width="2.9" height="2.4" fill="#1f7a0a"/>
<rect x="400.82" y="510.0" width="2.9" height="1.4" fill="#f02410"/>
<rect x="404.69" y="511.4" width="2.9" height="1.6" fill="#f02410"/>
<rect x="408.57" y="510.0" width="2.9" height="1.4" fill="#1f7a0a"/>
<rect x="412.44" y="511.4" width="2.9" height="3.2" fill="#f02410"/>
<rect x="416.31" y="511.4" width="2.9" height="16.2" fill="#f02410"/>
<rect x="420.19" y="511.4" width="2.9" height="25.0" fill="#f02410"/>
<rect x="424.06" y="511.4" width="2.9" height="30.6" fill="#f02410"/>
<rect x="427.94" y="511.4" width="2.9" height="35.2" fill="#f02410"/>
<rect x="431.81" y="511.4" width="2.9" height="46.2" fill="#f02410"/>
<rect x="435.68" y="511.4" width="2.9" height="46.2" fill="#1f7a0a"/>
<rect x="439.56" y="511.4" width="2.9" height="47.2" fill="#f02410"/>
<rect x="443.43" y="511.4" width="2.9" height="42.2" fill="#1f7a0a"/>
<rect x="447.30" y="511.4" width="2.9" height="37.2" fill="#1f7a0a"/>
<rect x="451.18" y="511.4" width="2.9" height="34.6" fill="#1f7a0a"/>
<rect x="455.05" y="511.4" width="2.9" height="32.6" fill="#1f7a0a"/>
<rect x="458.92" y="511.4" width="2.9" height="31.0" fill="#1f7a0a"/>
<rect x="462.80" y="511.4" width="2.9" height="28.2" fill="#1f7a0a"/>
<rect x="466.67" y="511.4" width="2.9" height="26.0" fill="#1f7a0a"/>
<rect x="470.54" y="511.4" width="2.9" height="23.0" fill="#1f7a0a"/>
<rect x="474.42" y="511.4" width="2.9" height="21.6" fill="#1f7a0a"/>
<rect x="478.29" y="511.4" width="2.9" height="20.2" fill="#1f7a0a"/>
<rect x="482.16" y="511.4" width="2.9" height="21.6" fill="#f02410"/>
<rect x="486.04" y="511.4" width="2.9" height="24.0" fill="#f02410"/>
<rect x="489.91" y="511.4" width="2.9" height="27.0" fill="#f02410"/>
<rect x="493.78" y="511.4" width="2.9" height="25.0" fill="#1f7a0a"/>
<rect x="497.66" y="511.4" width="2.9" height="21.6" fill="#1f7a0a"/>
<rect x="501.53" y="511.4" width="2.9" height="11.6" fill="#1f7a0a"/>
<rect x="505.41" y="511.4" width="2.9" height="1.4" fill="#1f7a0a"/>
<rect x="509.28" y="503.0" width="2.9" height="8.4" fill="#1f7a0a"/>
<rect x="513.15" y="500.0" width="2.9" height="11.4" fill="#1f7a0a"/>
<rect x="517.03" y="501.0" width="2.9" height="10.4" fill="#f02410"/>
<rect x="520.90" y="508.0" width="2.9" height="3.4" fill="#f02410"/>
<rect x="524.77" y="511.4" width="2.9" height="2.2" fill="#f02410"/>
<rect x="532.52" y="511.4" width="2.9" height="2.2" fill="#f02410"/>
<rect x="536.39" y="510.0" width="2.9" height="1.4" fill="#1f7a0a"/>
<rect x="540.27" y="509.6" width="2.9" height="1.8" fill="#1f7a0a"/>
<rect x="544.14" y="511.4" width="2.9" height="1.4" fill="#f02410"/>
<rect x="548.01" y="511.4" width="2.9" height="3.2" fill="#f02410"/>
<rect x="551.89" y="511.4" width="2.9" height="7.6" fill="#f02410"/>
<rect x="555.76" y="511.4" width="2.9" height="12.6" fill="#f02410"/>
<rect x="559.63" y="511.4" width="2.9" height="12.6" fill="#f02410"/>
<rect x="563.51" y="511.4" width="2.9" height="9.0" fill="#1f7a0a"/>
<rect x="567.38" y="511.4" width="2.9" height="11.0" fill="#f02410"/>
<rect x="571.25" y="511.4" width="2.9" height="16.2" fill="#f02410"/>
<rect x="575.13" y="511.4" width="2.9" height="20.2" fill="#f02410"/>
<rect x="579.00" y="511.4" width="2.9" height="21.2" fill="#f02410"/>
<rect x="582.87" y="511.4" width="2.9" height="21.2" fill="#1f7a0a"/>
<rect x="586.75" y="511.4" width="2.9" height="30.6" fill="#f02410"/>
<rect x="590.62" y="511.4" width="2.9" height="25.0" fill="#1f7a0a"/>
<rect x="594.50" y="511.4" width="2.9" height="19.0" fill="#1f7a0a"/>
<rect x="598.37" y="511.4" width="2.9" height="17.2" fill="#1f7a0a"/>
<rect x="602.24" y="511.4" width="2.9" height="12.6" fill="#1f7a0a"/>
<rect x="606.12" y="511.4" width="2.9" height="6.6" fill="#1f7a0a"/>
<rect x="609.99" y="511.4" width="2.9" height="8.2" fill="#f02410"/>
<rect x="613.86" y="511.4" width="2.9" height="11.0" fill="#f02410"/>
<rect x="617.74" y="511.4" width="2.9" height="12.2" fill="#f02410"/>
<rect x="621.61" y="511.4" width="2.9" height="13.0" fill="#f02410"/>
<rect x="625.48" y="511.4" width="2.9" height="15.0" fill="#f02410"/>
<rect x="629.36" y="511.4" width="2.9" height="15.0" fill="#f02410"/>
<rect x="633.23" y="511.4" width="2.9" height="11.6" fill="#1f7a0a"/>
<rect x="637.10" y="511.4" width="2.9" height="8.6" fill="#1f7a0a"/>
<rect x="640.98" y="511.4" width="2.9" height="7.6" fill="#1f7a0a"/>
<rect x="644.85" y="511.4" width="2.9" height="4.6" fill="#1f7a0a"/>
<rect x="648.72" y="511.4" width="2.9" height="2.2" fill="#1f7a0a"/>
<rect x="652.60" y="511.4" width="2.9" height="1.4" fill="#1f7a0a"/>
<rect x="656.47" y="508.4" width="2.9" height="3.0" fill="#1f7a0a"/>
<rect x="660.34" y="508.4" width="2.9" height="3.0" fill="#f02410"/>
<rect x="668.09" y="510.0" width="2.9" height="1.4" fill="#1f7a0a"/>
<rect x="671.97" y="508.4" width="2.9" height="3.0" fill="#1f7a0a"/>
<rect x="675.84" y="505.0" width="2.9" height="6.4" fill="#1f7a0a"/>
<rect x="679.71" y="495.4" width="2.9" height="16.0" fill="#1f7a0a"/>
<rect x="683.59" y="486.6" width="2.9" height="24.8" fill="#1f7a0a"/>
<rect x="687.46" y="481.6" width="2.9" height="29.8" fill="#1f7a0a"/>
<rect x="691.33" y="478.0" width="2.9" height="33.4" fill="#1f7a0a"/>
<rect x="695.21" y="478.0" width="2.9" height="33.4" fill="#1f7a0a"/>
<rect x="699.08" y="475.0" width="2.9" height="36.4" fill="#1f7a0a"/>
<rect x="702.95" y="469.4" width="2.9" height="42.0" fill="#1f7a0a"/>
<rect x="706.83" y="456.4" width="2.9" height="55.0" fill="#1f7a0a"/>
<rect x="710.70" y="453.4" width="2.9" height="58.0" fill="#1f7a0a"/>
<rect x="714.57" y="454.4" width="2.9" height="57.0" fill="#f02410"/>
<rect x="718.45" y="459.4" width="2.9" height="52.0" fill="#f02410"/>
<rect x="722.32" y="464.4" width="2.9" height="47.0" fill="#f02410"/>
<rect x="726.19" y="468.0" width="2.9" height="43.4" fill="#f02410"/>
<rect x="730.07" y="462.0" width="2.9" height="49.4" fill="#1f7a0a"/>
<rect x="733.94" y="457.4" width="2.9" height="54.0" fill="#1f7a0a"/>
<rect x="737.81" y="445.0" width="2.9" height="66.4" fill="#1f7a0a"/>
<rect x="741.69" y="463.4" width="2.9" height="48.0" fill="#f02410"/>
<rect x="745.56" y="471.0" width="2.9" height="40.4" fill="#f02410"/>
<rect x="749.44" y="490.4" width="2.9" height="21.0" fill="#f02410"/>
<rect x="753.31" y="497.0" width="2.9" height="14.4" fill="#f02410"/>
<polyline points="3.2,517.5 7.1,518.5 14.9,520.0 22.6,521.9 30.4,523.5 33.8,523.5 41.2,518.8 48.8,515.0 53.8,514.6 59.4,515.0 65.0,520.0 71.2,526.2 76.9,531.2 80.8,533.1 84.6,534.4 88.5,533.1 92.4,531.2 98.8,528.1 103.8,527.2 107.9,527.5 111.8,530.0 115.6,531.0 119.5,531.9 123.8,532.5 130.0,532.5 136.2,526.9 143.8,520.6 150.5,521.2 156.2,525.6 161.2,527.2 168.8,527.2 177.5,525.2 181.5,525.0 191.2,523.8 200.0,518.8 206.2,515.0 211.2,512.2 217.5,513.1 225.0,514.0 231.2,515.0 237.5,513.1 243.8,510.6 248.8,506.5 255.0,502.5 260.0,498.8 267.5,498.1 273.8,501.2 278.8,505.6 283.8,509.4 288.8,511.2 293.8,512.8 300.0,513.8 305.0,512.5 312.5,511.5 320.0,522.5 325.0,532.5 330.0,542.5 335.0,548.1 338.8,548.8 343.8,546.9 350.0,541.2 356.2,534.4 362.5,531.2 367.5,529.8 373.8,527.2 382.5,523.8 390.0,518.8 397.5,513.8 402.5,511.0 407.5,510.0 412.5,510.0 417.5,515.0 425.0,526.2 431.2,537.5 437.5,547.5 442.5,552.5 446.2,554.6 450.0,554.0 456.2,550.0 462.5,545.0 470.0,540.0 477.5,535.6 482.5,533.1 487.5,533.5 493.8,534.4 498.8,534.0 506.2,528.1 512.5,516.2 517.5,508.1 521.2,505.0 526.9,504.8 531.2,508.1 536.2,510.6 542.5,511.5 550.0,511.9 555.0,513.8 560.0,518.1 565.0,520.6 570.0,521.9 575.0,524.4 581.2,527.5 586.2,531.9 590.0,534.0 595.0,534.4 600.0,534.0 603.8,531.9 608.8,526.2 613.8,522.5 618.8,521.2 623.8,521.2 632.2,524.1 639.5,523.4 646.7,519.0 654.0,513.9 661.2,511.0 668.5,510.6 674.3,509.3 680.1,506.0 685.9,498.0 693.1,487.8 700.4,479.1 707.6,471.2 714.9,461.7 720.7,457.4 729.4,461.0 733.7,462.5 739.5,459.3 746.8,459.3 751.1,466.1 755.5,476.2 758.7,483.9" fill="none" stroke="#bdbdbd" stroke-width="0.9" stroke-linejoin="round"/>
</g>
<g fill="#151515">
<rect x="2" y="0" width="951.6" height="1" fill="#000"/>
<rect x="2" y="0" width="1" height="565" fill="#000"/>
<rect x="952.6" y="0" width="1" height="436.8" fill="#333"/>
<rect x="952.6" y="438.1" width="1" height="126.6" fill="#333"/>
<rect x="2" y="435.85" width="951.6" height="1"/>
<rect x="2" y="438.05" width="951.6" height="1"/>
<rect x="2" y="563.7" width="951.6" height="1"/>
</g>
<rect x="3" y="436.85" width="950" height="1.2" fill="#e4e4e4"/>
<path d="M3 558L3 564L8.5 564Z" fill="#6f8299"/>
<path d="M756.5 1H766.5L761.5 6.2Z" fill="#66758a"/>
<path d="M6 7H12.8L9.4 10.7Z" fill="#000"/>
<text x="17.05" y="11.8" textLength="51.7" lengthAdjust="spacingAndGlyphs">GBPUSD,H1</text>
<text x="75.9" y="11.8" textLength="30.8" lengthAdjust="spacingAndGlyphs">1.29959</text>
<text x="110.75" y="11.8" textLength="30.5" lengthAdjust="spacingAndGlyphs">1.30076</text>
<text x="146.25" y="11.8" textLength="30" lengthAdjust="spacingAndGlyphs">1.29633</text>
<text x="180.5" y="11.8" textLength="30.75" lengthAdjust="spacingAndGlyphs">1.29890</text>
<text x="6.75" y="449.8" textLength="81.25" lengthAdjust="spacingAndGlyphs">MACD_color(5,34,5)</text>
<text x="92" y="449.8" textLength="45" lengthAdjust="spacingAndGlyphs">0.00000000</text>
<text x="141.25" y="449.8" textLength="45" lengthAdjust="spacingAndGlyphs">0.00000000</text>
<text x="191.25" y="449.8" textLength="44.25" lengthAdjust="spacingAndGlyphs">0.00325490</text>
<rect x="953.6" y="17.3" width="2" height="1" fill="#111"/>
<text x="958.7" y="21.1" textLength="31.7" lengthAdjust="spacingAndGlyphs">1.31415</text>
<rect x="953.6" y="49.3" width="2" height="1" fill="#111"/>
<text x="958.7" y="53.1" textLength="31.7" lengthAdjust="spacingAndGlyphs">1.31190</text>
<rect x="953.6" y="81.3" width="2" height="1" fill="#111"/>
<text x="958.7" y="85.1" textLength="31.7" lengthAdjust="spacingAndGlyphs">1.30965</text>
<rect x="953.6" y="113.3" width="2" height="1" fill="#111"/>
<text x="958.7" y="117.1" textLength="31.7" lengthAdjust="spacingAndGlyphs">1.30740</text>
<rect x="953.6" y="145.3" width="2" height="1" fill="#111"/>
<text x="958.7" y="149.1" textLength="31.7" lengthAdjust="spacingAndGlyphs">1.30510</text>
<rect x="953.6" y="177.3" width="2" height="1" fill="#111"/>
<text x="958.7" y="181.1" textLength="31.7" lengthAdjust="spacingAndGlyphs">1.30285</text>
<rect x="953.6" y="209.3" width="2" height="1" fill="#111"/>
<text x="958.7" y="213.1" textLength="31.7" lengthAdjust="spacingAndGlyphs">1.30060</text>
<rect x="953.6" y="241.3" width="2" height="1" fill="#111"/>
<text x="958.7" y="245.1" textLength="31.7" lengthAdjust="spacingAndGlyphs">1.29835</text>
<rect x="953.6" y="273.3" width="2" height="1" fill="#111"/>
<text x="958.7" y="277.1" textLength="31.7" lengthAdjust="spacingAndGlyphs">1.29605</text>
<rect x="953.6" y="305.3" width="2" height="1" fill="#111"/>
<text x="958.7" y="309.1" textLength="31.7" lengthAdjust="spacingAndGlyphs">1.29380</text>
<rect x="953.6" y="337.3" width="2" height="1" fill="#111"/>
<text x="958.7" y="341.1" textLength="31.7" lengthAdjust="spacingAndGlyphs">1.29155</text>
<rect x="953.6" y="369.3" width="2" height="1" fill="#111"/>
<text x="958.7" y="373.1" textLength="31.7" lengthAdjust="spacingAndGlyphs">1.28930</text>
<rect x="953.6" y="401.3" width="2" height="1" fill="#111"/>
<text x="958.7" y="405.1" textLength="31.7" lengthAdjust="spacingAndGlyphs">1.28700</text>
<rect x="953.6" y="433.3" width="2" height="1" fill="#111"/>
<text x="958.7" y="437.1" textLength="31.7" lengthAdjust="spacingAndGlyphs">1.28475</text>
<rect x="955.3" y="16.2" width="37.7" height="10.6" fill="#e8281c"/>
<text class="w" x="958.7" y="24.9" textLength="31.7" lengthAdjust="spacingAndGlyphs">1.31380</text>
<rect x="955.3" y="134.5" width="37.7" height="10.4" fill="#e8281c"/>
<text class="w" x="958.7" y="143.2" textLength="31.7" lengthAdjust="spacingAndGlyphs">1.30545</text>
<rect x="955.3" y="228.4" width="37.7" height="10.5" fill="#000"/>
<text class="w" x="958.7" y="237.1" textLength="31.7" lengthAdjust="spacingAndGlyphs">1.29890</text>
<rect x="955.3" y="306.0" width="37.7" height="10.4" fill="#e8281c"/>
<text class="w" x="958.7" y="314.7" textLength="31.7" lengthAdjust="spacingAndGlyphs">1.29335</text>
<rect x="955.3" y="417.4" width="37.7" height="10.5" fill="#e8281c"/>
<text class="w" x="958.7" y="426.1" textLength="31.7" lengthAdjust="spacingAndGlyphs">1.28545</text>
<clipPath id="cl"><rect x="950" y="540" width="47.2" height="30"/></clipPath>
<rect x="953.6" y="439.7" width="1.2" height="1" fill="#111"/>
<text x="956.1" y="448.4" textLength="40.6" lengthAdjust="spacingAndGlyphs">0.0088120</text>
<rect x="953.6" y="511.1" width="1.2" height="1" fill="#111"/>
<text x="956.1" y="515.3" textLength="16.9" lengthAdjust="spacingAndGlyphs">0.00</text>
<rect x="953.6" y="556.8" width="1.2" height="1" fill="#111"/>
<text x="956.1" y="561.0" textLength="43.3" lengthAdjust="spacingAndGlyphs" clip-path="url(#cl)">-0.0063664</text>
<rect x="2.80" y="564.6" width="1" height="3" fill="#111"/>
<text x="2.10" y="576.1" textLength="48.5" lengthAdjust="spacingAndGlyphs">23 Oct 2020</text>
<rect x="64.78" y="564.6" width="1" height="3" fill="#111"/>
<text x="64.08" y="576.1" textLength="51.3" lengthAdjust="spacingAndGlyphs">23 Oct 17:00</text>
<rect x="126.75" y="564.6" width="1" height="3" fill="#111"/>
<text x="126.05" y="576.1" textLength="51.3" lengthAdjust="spacingAndGlyphs">26 Oct 10:00</text>
<rect x="188.73" y="564.6" width="1" height="3" fill="#111"/>
<text x="188.03" y="576.1" textLength="51.3" lengthAdjust="spacingAndGlyphs">27 Oct 02:00</text>
<rect x="250.70" y="564.6" width="1" height="3" fill="#111"/>
<text x="250.00" y="576.1" textLength="51.3" lengthAdjust="spacingAndGlyphs">27 Oct 18:00</text>
<rect x="312.68" y="564.6" width="1" height="3" fill="#111"/>
<text x="311.98" y="576.1" textLength="51.3" lengthAdjust="spacingAndGlyphs">28 Oct 10:00</text>
<rect x="374.66" y="564.6" width="1" height="3" fill="#111"/>
<text x="373.96" y="576.1" textLength="51.3" lengthAdjust="spacingAndGlyphs">29 Oct 02:00</text>
<rect x="436.63" y="564.6" width="1" height="3" fill="#111"/>
<text x="435.93" y="576.1" textLength="51.3" lengthAdjust="spacingAndGlyphs">29 Oct 18:00</text>
<rect x="498.61" y="564.6" width="1" height="3" fill="#111"/>
<text x="497.91" y="576.1" textLength="51.3" lengthAdjust="spacingAndGlyphs">30 Oct 10:00</text>
<rect x="560.58" y="564.6" width="1" height="3" fill="#111"/>
<text x="559.88" y="576.1" textLength="46.4" lengthAdjust="spacingAndGlyphs">2 Nov 03:00</text>
<rect x="622.56" y="564.6" width="1" height="3" fill="#111"/>
<text x="621.86" y="576.1" textLength="46.4" lengthAdjust="spacingAndGlyphs">2 Nov 19:00</text>
<rect x="684.54" y="564.6" width="1" height="3" fill="#111"/>
<text x="683.84" y="576.1" textLength="46.4" lengthAdjust="spacingAndGlyphs">3 Nov 11:00</text>
<rect x="746.51" y="564.6" width="1" height="3" fill="#111"/>
<text x="745.81" y="576.1" textLength="46.4" lengthAdjust="spacingAndGlyphs">4 Nov 03:00</text>
</svg></body></html>
